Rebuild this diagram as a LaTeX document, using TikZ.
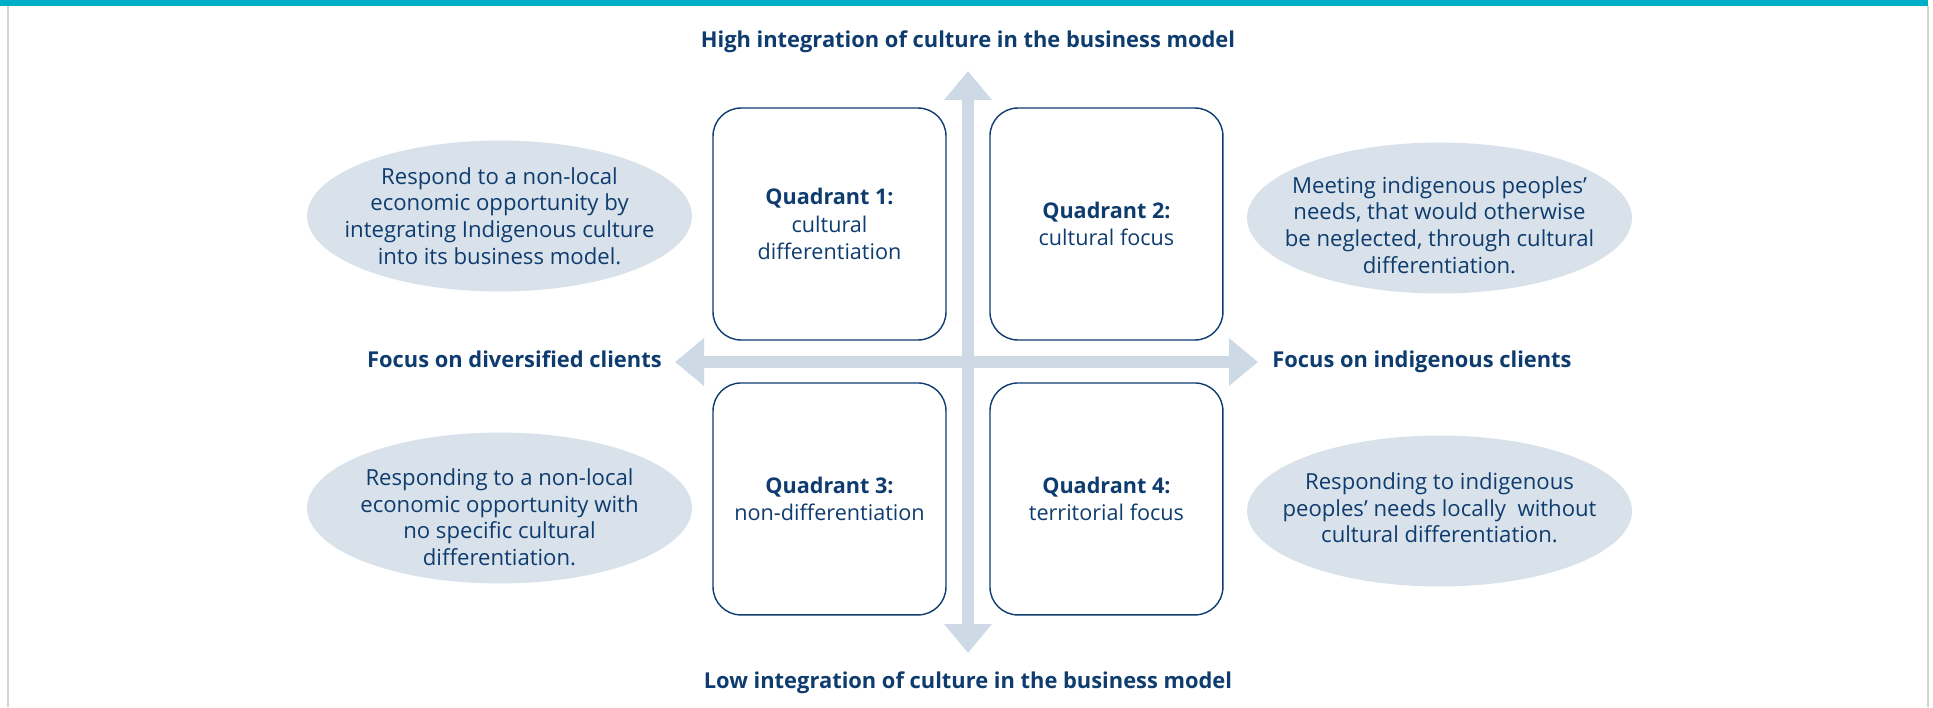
\documentclass[tikz,border=0pt]{standalone}
\usepackage{fontspec}
\setmainfont{Open Sans}
\usetikzlibrary{arrows.meta,positioning,shapes.geometric}

\definecolor{navy}{RGB}{14,60,110}
\definecolor{axisblue}{RGB}{205,217,229}
\definecolor{bubblefill}{RGB}{217,226,235}
\definecolor{topbar}{RGB}{0,174,199}
\definecolor{framegray}{RGB}{210,210,210}

\begin{document}
\begin{tikzpicture}[x=0.02cm,y=-0.02cm,
    >={Triangle[width=0.92cm,length=0.58cm]},
    quad/.style={draw=navy,line width=0.8pt,rounded corners=0.56cm,
                 minimum width=4.66cm,minimum height=4.64cm,inner sep=0pt,
                 outer sep=0pt,align=center,text=navy,
                 font=\fontsize{12.3}{15.6}\selectfont},
    bubble/.style={ellipse,fill=bubblefill,minimum width=7.7cm,
                   minimum height=3.02cm,inner sep=0pt},
    bubbletext/.style={align=center,inner sep=0pt,text=navy,
                       font=\fontsize{12.6}{15.1}\selectfont},
    axis/.style={<->,draw=axisblue,line width=0.24cm},
    axislabel/.style={text=navy,inner sep=0pt,
                      font=\fontsize{12.45}{16}\selectfont\bfseries}]

  \useasboundingbox (0,0) rectangle (1933,707);

  % page frame
  \fill[topbar] (0,0) rectangle (1928,6);
  \draw[framegray,line width=0.03cm] (8,6) -- (8,707);
  \draw[framegray,line width=0.03cm] (1928,6) -- (1928,707);

  % axes
  \coordinate (vtop)   at (968,71);
  \coordinate (vbot)   at (968,653);
  \coordinate (hleft)  at (675,362);
  \coordinate (hright) at (1258,362);
  \draw[axis] (vbot) -- (vtop);
  \draw[axis] (hleft) -- (hright);

  % quadrants
  \node[quad] (q1) at (829.5,224) {\textbf{Quadrant 1:}\\cultural\\differentiation};
  \node[quad] (q2) [right=0.88cm of q1] {\textbf{Quadrant 2:}\\cultural focus};
  \node[quad] (q3) [below=0.86cm of q1] {\textbf{Quadrant 3:}\\non-differentiation};
  \node[quad] (q4) [right=0.88cm of q3] {\textbf{Quadrant 4:}\\territorial focus};

  % descriptions
  \node[bubble] (e1) at (499.5,216) {};
  \node[bubble] (e2) at (1439.5,218) {};
  \node[bubble] (e3) at (499.5,508) {};
  \node[bubble] (e4) at (1439.5,511) {};
  \node[bubbletext] (t1) at (499.5,216) {Respond to a non-local\\economic opportunity by\\integrating Indigenous culture\\into its business model.};
  \node[bubbletext] (t2) at (1439.5,225) {Meeting indigenous peoples’\\needs, that would otherwise\\be neglected, through cultural\\differentiation.};
  \node[bubbletext] (t3) at (499.5,517) {Responding to a non-local\\economic opportunity with\\no specific cultural\\differentiation.};
  \node[bubbletext] (t4) at (1439.5,508) {Responding to indigenous\\peoples’ needs locally~ without\\cultural differentiation.};

  % axis labels
  \node[axislabel,anchor=base] (hi) at (968,47) {High integration of culture in the business model};
  \node[axislabel,anchor=base] (lo) at (968,688) {Low integration of culture in the business model};
  \node[axislabel,anchor=base east] (div) at (662,367) {Focus on diversified clients};
  \node[axislabel,anchor=base west] (ind) at (1272,367) {Focus on indigenous clients};
\end{tikzpicture}
\end{document}
